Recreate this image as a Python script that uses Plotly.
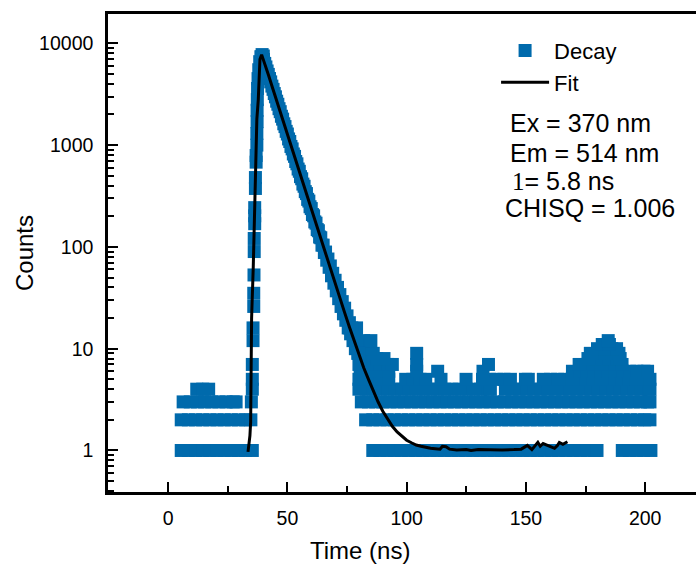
import plotly.graph_objects as go

# ---------------- data ----------------
# baseline / tail channels, grouped by count level (time in ns)
c1_t = [5.5, 8.5, 11.5, 14.5, 17.5, 20.5, 23.5, 26.5, 29.5, 32.5, 35.3,
        85.8, 88.8, 91.8, 94.8, 97.8, 100.8, 103.8, 106.8, 109.8, 112.8, 115.8,
        118.8, 121.8, 124.8, 127.8, 130.8, 133.8, 136.8, 139.8, 142.8, 145.8,
        148.8, 151.8, 154.8, 157.8, 160.8, 163.8, 166.8, 169.8, 172.8, 175.8,
        178.8, 179.8, 190.4, 193.4, 196.4, 199.4, 202.4]
c2_t = [5.5, 8.5, 11.5, 14.5, 17.5, 20.5, 23.5, 26.5, 29.5, 32.5, 34.7,
        82.8, 85.8, 88.8, 91.8, 94.8, 97.8, 100.8, 103.8, 106.8, 109.8, 112.8,
        115.8, 118.8, 121.8, 124.8, 127.8, 130.8, 133.8, 136.8, 139.8, 142.8,
        145.8, 148.8, 151.8, 154.8, 157.8, 160.8, 163.8, 166.8, 169.8, 172.8,
        175.8, 178.8, 181.8, 184.8, 187.8, 190.8, 193.8, 196.8, 199.8, 202.0]
c3_t = [6.3, 9.3, 12.3, 15.3, 18.3, 21.3, 24.3, 27.3, 28.5, 34.9,
        81, 84, 87, 90, 93, 96, 99, 102, 105, 108, 111, 114, 117, 120, 123, 126,
        129, 132, 135, 138, 141, 144, 147, 150, 153, 156, 159, 162, 165, 168,
        171, 174, 177, 180, 183, 186, 189, 192, 195, 198, 201, 202]
c4_t = [12.0, 14.5, 17.0,
        80, 83, 86, 89, 92, 95, 98, 101, 104, 107, 110, 113, 116, 119, 122, 125,
        128, 131, 134, 135.1, 141.4, 144.4, 147.4, 150.4, 153.4, 156.4, 159.4,
        162.4, 165.4, 168.4, 171.4, 174.4, 177.4, 180.4, 183.4, 186.4, 189.4,
        192.4, 195.4, 198.4, 201.4, 202.0]
c5_t = [80, 83, 86, 89, 92.5, 99.6, 102.6, 105.6, 108, 114.4, 124.9, 131.8,
        134.8, 137.8, 140.8, 143.5, 149.8, 151, 157.3, 160.3, 163.3, 166.3,
        169.3, 172.3, 175.3, 178.3, 181.3, 184.3, 187.3, 190.3, 193.3, 196.3,
        199.3, 202.0]
c6_t = [80.5, 83.5, 86.5, 89.5, 92.5, 104.2, 113.0, 132.0, 169.5, 172.5, 175.5,
        178.5, 181.5, 184.5, 187.5, 190.5, 193.5, 196.5, 199.5, 201.0]
c7_t = [80.0, 83.0, 86.0, 89.0, 92.0, 94.0, 104.2, 134.3, 172.3, 175.3, 178.3,
        181.3, 184.3, 187.3, 190.3]
c8_t = [87.5, 90.5, 176.0, 179.0, 182.0, 185.0, 188.0, 189.5]
c9_t = [80.0, 83.0, 86.0, 104.2, 177.0, 180.0, 183.0, 186.0, 189.0]
c10_t = [81.5, 84.5, 180.0, 183.0, 186.0, 188.0]
c11_t = [182.0, 185.0]
c12_t = [79.0, 82.0, 85.0, 184.5]
c16_t = [76.0, 79.0]

level_counts = [1, 2, 3, 4, 5, 6, 7, 8, 9, 10, 11, 12, 16]
level_times = [c1_t, c2_t, c3_t, c4_t, c5_t, c6_t, c7_t, c8_t, c9_t,
               c10_t, c11_t, c12_t, c16_t]

# rising edge and peak
rise_t = [35.3, 35.3, 35.3, 35.6, 35.6, 35.9, 35.9, 36.0, 36.1, 36.1, 36.3,
          36.3, 36.3, 36.6, 36.6, 36.9, 36.9, 37.2, 37.2, 37.3, 37.3, 37.4,
          37.5, 37.7, 38.0, 38.4, 38.9, 39.4, 39.9]
rise_c = [4, 5, 7, 12, 16, 26, 35, 53, 90, 121, 169, 202, 243, 375, 480, 680,
          790, 1000, 1300, 1700, 2200, 2800, 3600, 4500, 5500, 6600, 7400, 7750,
          7500]

# exponential decay part
decay_t = [40.0, 40.5, 41.0, 41.5, 42.0, 42.5, 43.0, 43.5, 44.0, 44.5, 45.0,
           45.5, 46.0, 46.5, 47.0, 47.5, 48.0, 48.5, 49.0, 49.5, 50.0, 50.5,
           51.0, 51.5, 52.0, 52.5, 53.0, 53.5, 54.0, 54.5, 55.0, 55.5, 56.0,
           56.5, 57.0, 57.5, 58.0, 58.5, 59.0, 59.5, 60.0, 60.5, 61.0, 61.5,
           62.0, 62.5, 63.0, 63.5, 64.0, 64.5, 65.0, 65.5, 66.0, 66.5, 67.0,
           67.5, 68.0, 68.5, 69.0, 69.5, 70.0, 70.5, 71.0, 71.5, 72.0, 72.5,
           73.0, 73.5, 74.0, 74.5, 75.0, 75.5, 76.0, 76.5, 77.0, 77.5, 78.0,
           78.5, 79.0, 79.5, 80.0]
decay_c = [6930, 6350, 5860, 5350, 4950, 4510, 4180, 3800, 3530, 3210, 2980,
           2700, 2520, 2280, 2130, 1920, 1800, 1620, 1520, 1365, 1285, 1150,
           1085, 970, 918, 818, 775, 690, 655, 582, 553, 490, 467, 414, 394,
           349, 334, 293, 282, 248, 238, 208, 202, 176, 171, 148, 144, 125, 123,
           104, 104, 88, 89, 74, 76, 63, 65, 52, 55, 44, 47, 37, 40, 31, 34, 26,
           29, 22, 25, 19, 21, 16, 18, 14, 16, 12, 13, 10, 11, 9, 9]

# fitted curve
fit_t = [33.5, 33.8, 34.3, 34.6, 34.7, 35.0, 35.7, 36.4, 37.0, 37.2, 37.8, 38.2,
         38.5, 39.2, 39.9, 41, 42, 44, 46, 48, 50, 52, 54, 56, 58, 60, 62, 64,
         66, 68, 70, 72, 74, 76, 78, 80, 82, 84, 86, 88, 90, 92, 94, 96, 98,
         100, 102, 104, 106, 108, 110, 112, 114, 115, 116.5, 118, 121, 125, 127,
         130, 135, 140, 145, 148, 150.6, 152.5, 155, 156, 157.2, 162, 163.2,
         164, 165.5, 167.4]
fit_c = [0.97, 1.1, 1.4, 1.9, 4.6, 20, 64, 290, 900, 1800, 2800, 5150, 6960,
         7740, 6960, 5845, 4933, 3513, 2501, 1781, 1269, 904, 644, 459, 327,
         233, 166, 119, 84.9, 60.7, 43.5, 31.3, 22.6, 16.3, 11.9, 8.8, 6.5,
         5.0, 3.82, 3.01, 2.43, 2.02, 1.73, 1.52, 1.37, 1.26, 1.19, 1.13, 1.1,
         1.07, 1.05, 1.04, 1.03, 1.1, 1.09, 1.03, 1.01, 1.02, 1.0, 1.02, 1.01,
         1.01, 1.02, 1.03, 1.12, 1.02, 1.2, 1.1, 1.17, 1.05, 1.12, 1.2, 1.15,
         1.22]

x_tick_vals = [0, 50, 100, 150, 200]
y_tick_vals = [1, 10, 100, 1000, 10000]
y_tick_text = ["1", "10", "100", "1000", "10000"]
info_lines = ["Ex = 370 nm", "Em = 514 nm",
              "<span style='font-family:Liberation Serif'>1</span>= 5.8 ns",
              "CHISQ = 1.006"]

# ---------------- assemble ----------------
all_t, all_c = [], []
for lvl, ts in zip(level_counts, level_times):
    all_t += ts
    all_c += [lvl] * len(ts)
all_t += rise_t + decay_t
all_c += rise_c + decay_c

BLUE = "rgb(0,106,172)"
FONT = "Liberation Sans, Arial, sans-serif"

fig = go.Figure()
fig.add_trace(go.Scatter(x=all_t, y=all_c, mode="markers", name="Decay",
                         marker=dict(symbol="square", size=13, color=BLUE,
                                     line=dict(width=0))))
fig.add_trace(go.Scatter(x=fit_t, y=fit_c, mode="lines", name="Fit",
                         line=dict(color="black", width=3)))

minor_y = [k * 10 ** e for e in range(-1, 5) for k in range(2, 10)]

fig.update_layout(
    width=696, height=565,
    margin=dict(l=108, r=0, t=14, b=73),
    paper_bgcolor="white", plot_bgcolor="white",
    font=dict(family=FONT, color="black", size=19),
    showlegend=True,
    legend=dict(x=0.66, y=0.967, xanchor="left", yanchor="top",
                bgcolor="rgba(0,0,0,0)", borderwidth=0, itemwidth=48,
                font=dict(size=22, family=FONT), tracegroupgap=0),
    xaxis=dict(range=[-25.2, 221.3], showgrid=False, zeroline=False,
               showline=True, linecolor="black", linewidth=2.5, mirror=True,
               ticks="inside", ticklen=10, tickwidth=2, tickcolor="black",
               tickvals=x_tick_vals, ticklabelstandoff=7,
               tickfont=dict(size=19.5),
               minor=dict(ticks="inside", ticklen=6, tickwidth=2,
                          tickcolor="black", dtick=25, tick0=0)),
    yaxis=dict(type="log", range=[-0.408, 4.288], showgrid=False,
               zeroline=False, showline=True, linecolor="black", linewidth=2.5,
               ticks="inside", ticklen=10, tickwidth=2, tickcolor="black",
               tickvals=y_tick_vals, ticktext=y_tick_text,
               ticklabelstandoff=8, tickfont=dict(size=19.5),
               minor=dict(ticks="inside", ticklen=6, tickwidth=2,
                          tickcolor="black", tickvals=minor_y)),
)

# axis titles
fig.add_annotation(text="Time (ns)", xref="paper", yref="paper",
                   x=(360 - 108) / 588, y=(492 - 550) / 478, xanchor="center",
                   yanchor="middle", showarrow=False, font=dict(size=24))
fig.add_annotation(text="Counts", xref="paper", yref="paper",
                   x=(24 - 108) / 588, y=0.5, xanchor="center",
                   yanchor="middle", textangle=-90, showarrow=False,
                   font=dict(size=24))

info_y = [123, 153, 181, 208]
info_x = [508, 508, 510, 503]
for txt, py, px in zip(info_lines, info_y, info_x):
    fig.add_annotation(text=txt, xref="paper", yref="paper",
                       x=(px - 108) / 588, y=(492 - py) / 478,
                       xanchor="left", yanchor="middle", showarrow=False,
                       font=dict(size=25))

fig.write_html("out.html")
